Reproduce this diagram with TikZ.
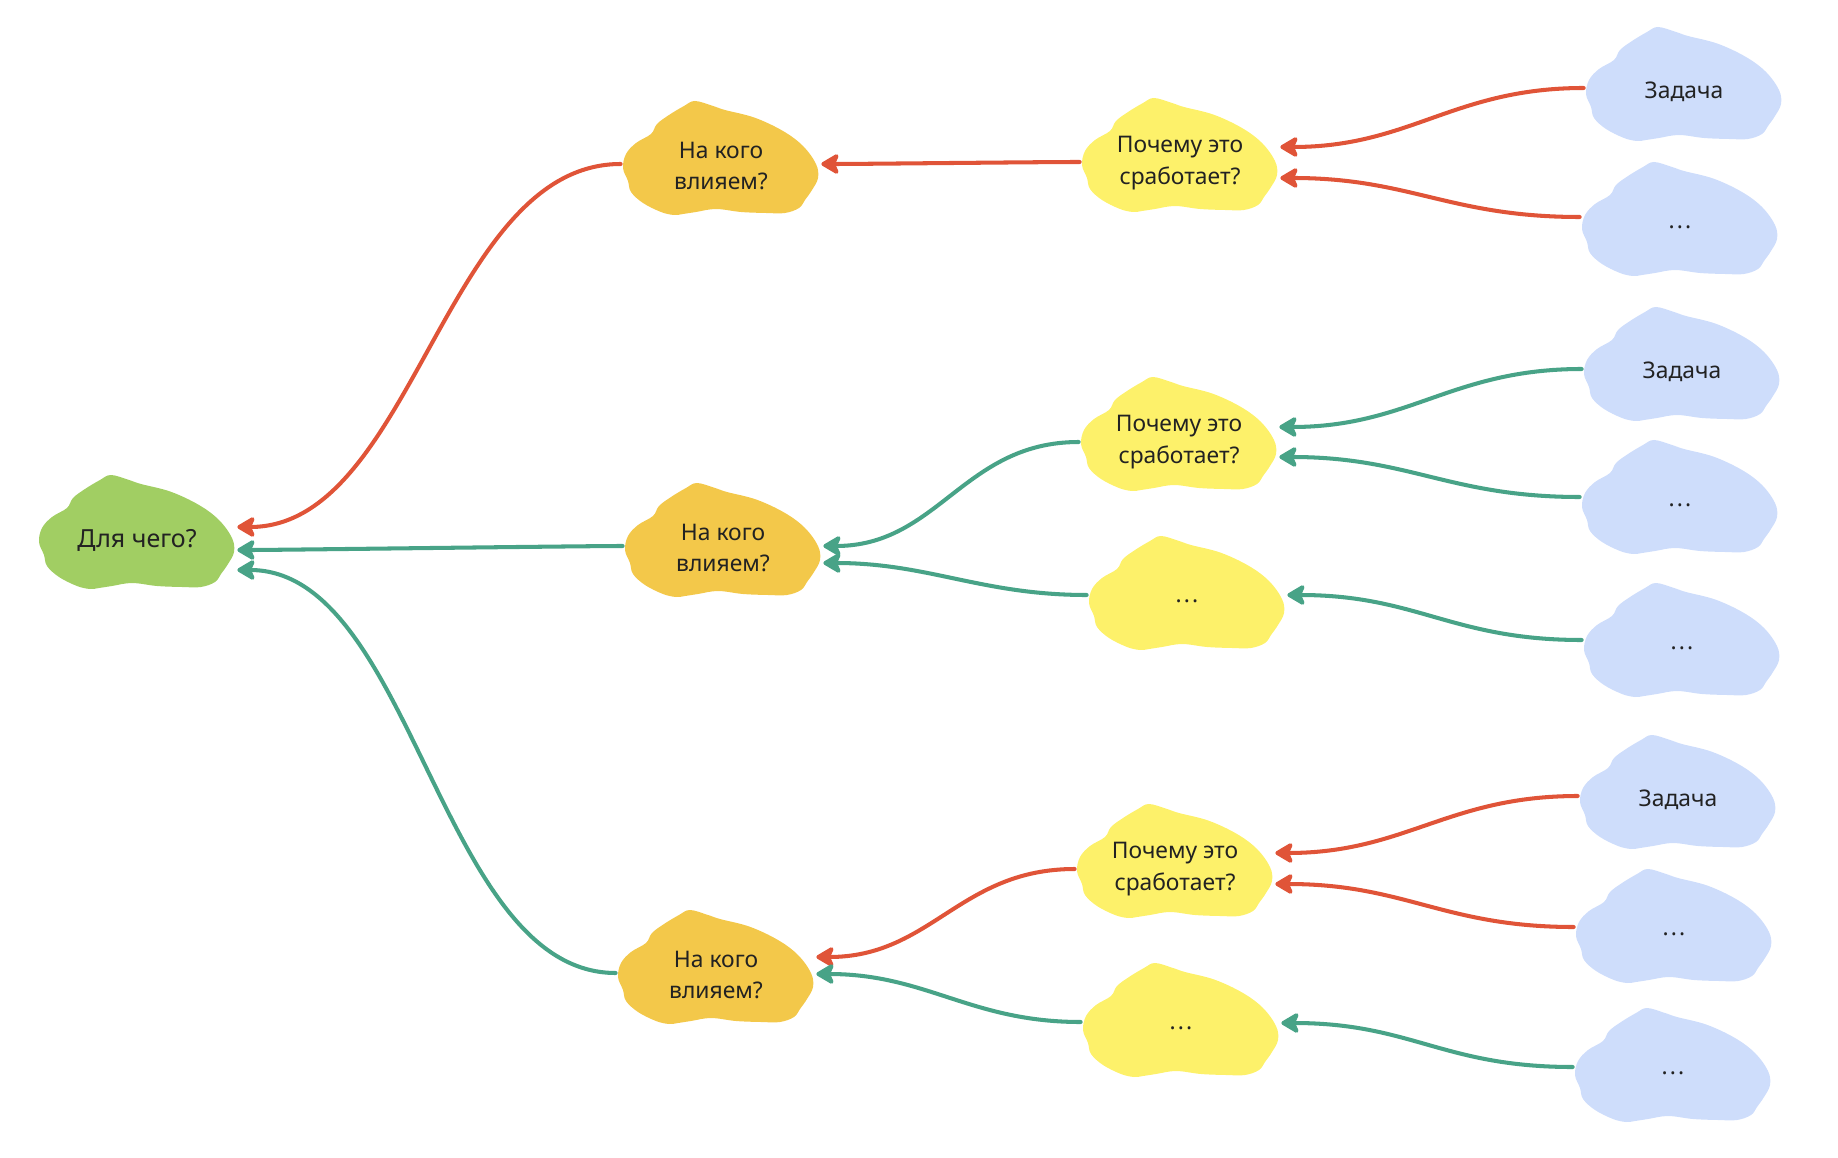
\documentclass[tikz,border=0pt]{standalone}
\usepackage{fontspec}
\setmainfont{Noto Sans}
\usetikzlibrary{arrows.meta,calc}
\definecolor{cgreen}{HTML}{A1CE63}
\definecolor{corange}{HTML}{F3C84A}
\definecolor{cyellow}{HTML}{FDF16A}
\definecolor{cblue}{HTML}{CEDDFB}
\definecolor{ared}{HTML}{E05438}
\definecolor{ateal}{HTML}{48A387}
\definecolor{ctext}{HTML}{222222}
\tikzset{
  txt/.style={text=ctext, font=\fontsize{13}{18}\selectfont, align=center,
    minimum width=4cm, inner sep=0pt},
  bigtxt/.style={font=\fontsize{14.2}{18}\selectfont},
  tipstyle/.style={-{Stealth[length=12pt,width=14pt,inset=3pt,round]}},
  redarrow/.style={draw=ared, line width=2.3pt, line cap=round, tipstyle},
  tealarrow/.style={draw=ateal, line width=2.3pt, line cap=round, tipstyle},
}
\newcommand\dotsx{{\bfseries .\hspace{1.2pt}.\hspace{1.2pt}.}}
\newcommand\mkcloud[6][]{%
  \begin{scope}[shift={(#4,#5)}]
    \fill[#3] plot[smooth cycle, tension=0.6] coordinates {
      (-37,-60) (-26,-65) (-8,-60) (4,-56) (33.7,-48.3) (62,-35) (82,-20)
      (95,-2) (97,12) (91,24) (84,34) (78,42) (64,47) (45,47) (20,46)
      (-5,43) (-25,46) (-38,48) (-47,49) (-60,46) (-78,37) (-90,26) (-93,15)
      (-98,2) (-95,-12) (-85,-23) (-70,-32) (-64,-42) (-52,-51)};
  \end{scope}
  \node[txt,#1] (#2) at (#4,#5) {#6};%
}
\newcommand\conn[6]{%
  \draw[#1] ($(#2.west)+(0,#3)$) .. controls +(-#6,0) and +(#6,0) .. ($(#4.east)+(0,#5)$);%
}
\begin{document}
\begin{tikzpicture}[x=0.02cm,y=-0.02cm]
\useasboundingbox (0,0) rectangle (1838,1158);
% clouds
\mkcloud[bigtxt]{g}{cgreen}{137}{540}{Для чего?}
\mkcloud{o1}{corange}{721}{166}{На кого\\влияем?}
\mkcloud{o2}{corange}{723}{548}{На кого\\влияем?}
\mkcloud{o3}{corange}{716}{975}{На кого\\влияем?}
\mkcloud{y1}{cyellow}{1180}{163}{Почему это\\сработает?}
\mkcloud{y2}{cyellow}{1179}{442}{Почему это\\сработает?}
\mkcloud{y3}{cyellow}{1187}{601}{\dotsx}
\mkcloud{y4}{cyellow}{1175}{869}{Почему это\\сработает?}
\mkcloud{y5}{cyellow}{1181}{1028}{\dotsx}
\mkcloud{b1}{cblue}{1684}{92}{Задача}
\mkcloud{b2}{cblue}{1680}{227}{\dotsx}
\mkcloud{b3}{cblue}{1682}{372}{Задача}
\mkcloud{b4}{cblue}{1680}{505}{\dotsx}
\mkcloud{b5}{cblue}{1682}{648}{\dotsx}
\mkcloud{b6}{cblue}{1678}{800}{Задача}
\mkcloud{b7}{cblue}{1674}{934}{\dotsx}
\mkcloud{b8}{cblue}{1673}{1073}{\dotsx}
% level 1
\conn{redarrow}{o1}{-2}{g}{-13}{176}
\conn{tealarrow}{o2}{-2}{g}{10}{40}
\conn{tealarrow}{o3}{-2}{g}{30}{176}
% level 2
\conn{redarrow}{y1}{-1}{o1}{-2}{40}
\conn{tealarrow}{y2}{0}{o2}{-2}{115}
\conn{tealarrow}{y3}{-6}{o2}{15}{105}
\conn{redarrow}{y4}{0}{o3}{-18}{115}
\conn{tealarrow}{y5}{-6}{o3}{-1}{110}
% level 3
\conn{redarrow}{b1}{-4}{y1}{-16}{130}
\conn{redarrow}{b2}{-10}{y1}{15}{130}
\conn{tealarrow}{b3}{-3}{y2}{-15}{130}
\conn{tealarrow}{b4}{-8}{y2}{15}{130}
\conn{tealarrow}{b5}{-8}{y3}{-6}{130}
\conn{redarrow}{b6}{-4}{y4}{-16}{130}
\conn{redarrow}{b7}{-7}{y4}{15}{130}
\conn{tealarrow}{b8}{-6}{y5}{-5}{130}
\end{tikzpicture}
\end{document}
